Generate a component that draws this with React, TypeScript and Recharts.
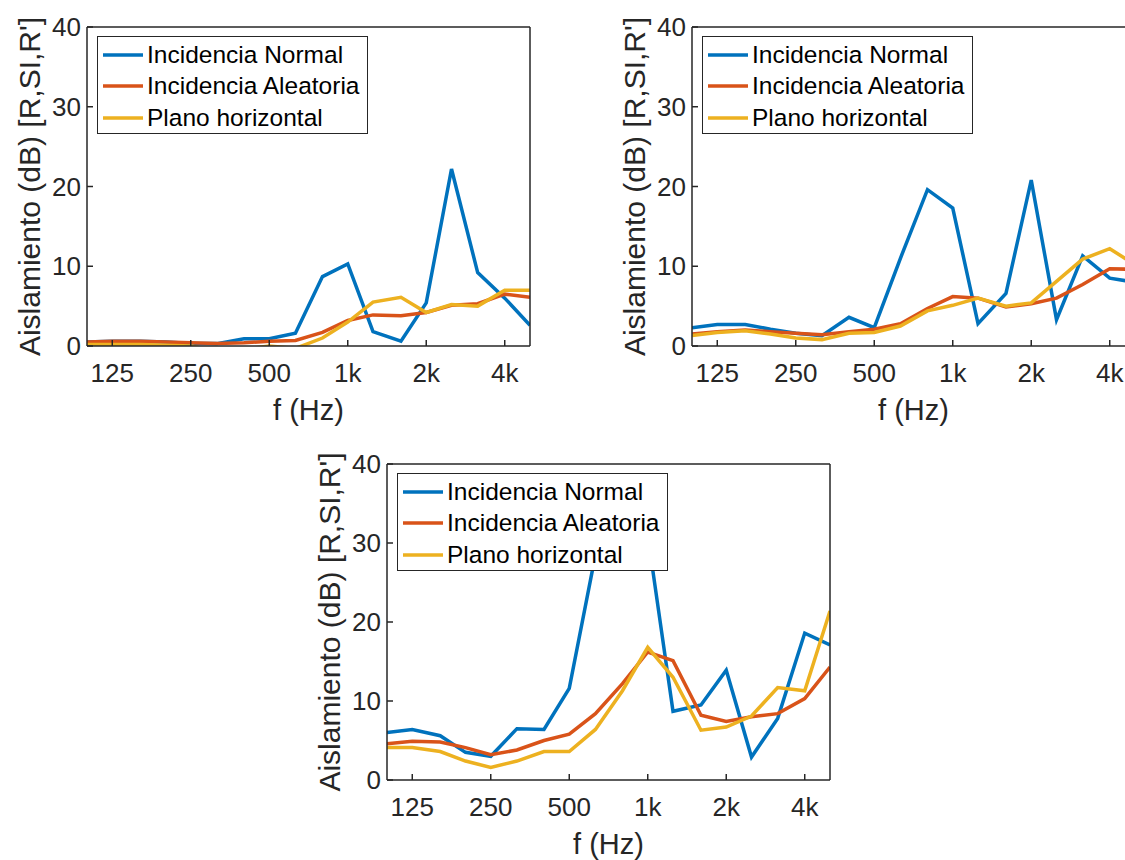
import { LineChart, Line, XAxis, YAxis, Legend } from 'recharts';

const FONT = '"Liberation Sans", Arial, Helvetica, sans-serif';
const INK = '#262626';

// third-octave band centre frequencies (Hz)
const freqs = [100, 125, 160, 200, 250, 315, 400, 500, 630, 800, 1000, 1250, 1600, 2000, 2500, 3150, 4000, 5000];
const freqTicks = [125, 250, 500, 1000, 2000, 4000];
const freqTickLabels = ['125', '250', '500', '1k', '2k', '4k'];
const dbTicks = [0, 10, 20, 30, 40];

const seriesKeys = ['normal', 'aleatoria', 'plano'];
const seriesNames = ['Incidencia Normal', 'Incidencia Aleatoria', 'Plano horizontal'];
const seriesColors = ['#0072BD', '#D95319', '#EDB120'];

// top-left panel
const normalA = [0.5, 0.6, 0.6, 0.5, 0.3, 0.3, 0.9, 0.9, 1.6, 8.7, 10.3, 1.8, 0.6, 5.4, 22.2, 9.2, 6.0, 2.6];
const aleatoriaA = [0.5, 0.6, 0.6, 0.5, 0.4, 0.3, 0.4, 0.6, 0.7, 1.7, 3.2, 3.9, 3.8, 4.2, 5.1, 5.3, 6.5, 6.1];
const planoA = [0.2, 0.2, 0.2, 0.1, 0.0, -0.6, -0.4, 0.0, -0.3, 1.0, 3.0, 5.5, 6.1, 4.2, 5.2, 5.0, 7.0, 7.0];

// top-right panel
const normalB = [2.3, 2.7, 2.7, 2.1, 1.6, 1.3, 3.6, 2.3, 11.0, 19.6, 17.3, 2.8, 6.6, 20.8, 3.3, 11.3, 8.5, 8.0];
const aleatoriaB = [1.5, 1.8, 2.0, 1.8, 1.6, 1.4, 1.8, 2.1, 2.8, 4.7, 6.2, 6.0, 4.9, 5.3, 6.0, 7.7, 9.7, 9.6];
const planoB = [1.3, 1.7, 1.9, 1.5, 1.0, 0.8, 1.6, 1.7, 2.5, 4.4, 5.1, 6.0, 5.0, 5.4, 8.1, 10.9, 12.2, 10.2];

// bottom panel
const normalC = [6.0, 6.4, 5.6, 3.5, 3.0, 6.5, 6.4, 11.6, 28.5, 36.0, 31.0, 8.7, 9.5, 13.9, 2.9, 7.8, 18.6, 17.1];
const aleatoriaC = [4.6, 4.9, 4.8, 4.1, 3.2, 3.8, 5.0, 5.8, 8.4, 12.2, 16.2, 15.1, 8.2, 7.4, 8.0, 8.4, 10.3, 14.3];
const planoC = [4.1, 4.1, 3.6, 2.4, 1.6, 2.4, 3.6, 3.6, 6.4, 11.3, 16.8, 13.0, 6.3, 6.7, 8.1, 11.7, 11.3, 21.4];

const buildRows = (normal: number[], aleatoria: number[], plano: number[]) =>
  freqs.map((f, i) => ({ f, normal: normal[i], aleatoria: aleatoria[i], plano: plano[i] }));

const fmtFreq = (v: number) => {
  const i = freqTicks.indexOf(v);
  return i >= 0 ? freqTickLabels[i] : String(v);
};

const renderLegend = () => (
  <div
    style={{
      width: 271,
      height: 98,
      boxSizing: 'border-box',
      border: `1.5px solid ${INK}`,
      background: '#fff',
      paddingTop: 2,
      fontFamily: FONT,
    }}
  >
    {seriesNames.map((name, i) => (
      <div key={name} style={{ height: 31.5, display: 'flex', alignItems: 'center' }}>
        <svg width={48} height={6} style={{ flex: 'none' }}>
          <line x1={5} x2={45} y1={3} y2={3} stroke={seriesColors[i]} strokeWidth={3.5} />
        </svg>
        <span style={{ fontSize: 24.5, color: '#000', whiteSpace: 'nowrap', marginLeft: 1 }}>{name}</span>
      </div>
    ))}
  </div>
);

interface PanelProps {
  left: number;
  top: number;
  plotHeight: number;
  rows: Array<{ f: number; normal: number; aleatoria: number; plano: number }>;
}

// plot box sits at (90, 28) inside every chart
function Panel({ left, top, plotHeight, rows }: PanelProps) {
  const W = 560;
  const H = 450;
  return (
    <div style={{ position: 'absolute', left: left - 90, top: top - 28 }}>
      <LineChart
        width={W}
        height={H}
        data={rows}
        margin={{ top: 27, left: 10, right: W - 90 - 443 - 1, bottom: H - 28 - plotHeight - 80 }}
      >
        <XAxis
          xAxisId="b"
          dataKey="f"
          type="number"
          scale="log"
          domain={[100, 5000]}
          allowDataOverflow
          ticks={freqTicks}
          tickFormatter={fmtFreq}
          height={80}
          tickSize={-6}
          tickMargin={24}
          axisLine={{ stroke: INK, strokeWidth: 1.5 }}
          tickLine={{ stroke: INK, strokeWidth: 1.5 }}
          tick={{ fill: INK, fontSize: 26, fontFamily: FONT }}
          label={{ value: 'f (Hz)', position: 'insideBottom', offset: 6, fill: INK, fontSize: 29, fontFamily: FONT }}
        />
        <XAxis
          xAxisId="t"
          orientation="top"
          dataKey="f"
          type="number"
          scale="log"
          domain={[100, 5000]}
          allowDataOverflow
          ticks={freqTicks}
          height={1}
          tickSize={-6}
          tick={false}
          axisLine={{ stroke: INK, strokeWidth: 1.5 }}
          tickLine={{ stroke: INK, strokeWidth: 1.5 }}
        />
        <YAxis
          yAxisId="l"
          type="number"
          domain={[0, 40]}
          allowDataOverflow
          ticks={dbTicks}
          width={80}
          tickSize={-6}
          tickMargin={12}
          axisLine={{ stroke: INK, strokeWidth: 1.5 }}
          tickLine={{ stroke: INK, strokeWidth: 1.5 }}
          tick={{ fill: INK, fontSize: 26, fontFamily: FONT }}
          label={{
            value: "Aislamiento (dB) [R,SI,R']",
            angle: -90,
            position: 'insideLeft',
            offset: 22,
            fill: INK,
            fontSize: 30,
            fontFamily: FONT,
            style: { textAnchor: 'middle' },
          }}
        />
        <YAxis
          yAxisId="r"
          orientation="right"
          type="number"
          domain={[0, 40]}
          allowDataOverflow
          ticks={dbTicks}
          width={1}
          tickSize={-6}
          tick={false}
          axisLine={{ stroke: INK, strokeWidth: 1.5 }}
          tickLine={{ stroke: INK, strokeWidth: 1.5 }}
        />
        {seriesKeys.map((k, i) => (
          <Line
            key={k}
            xAxisId="b"
            yAxisId="l"
            type="linear"
            dataKey={k}
            name={seriesNames[i]}
            stroke={seriesColors[i]}
            strokeWidth={3.5}
            dot={false}
            activeDot={false}
            isAnimationActive={false}
          />
        ))}
        <Legend
          layout="vertical"
          align="center"
          verticalAlign="middle"
          content={renderLegend}
          wrapperStyle={{ left: 100, top: 37, width: 271 }}
        />
      </LineChart>
    </div>
  );
}

export default function App() {
  return (
    <div
      style={{
        position: 'absolute',
        left: 0,
        top: 0,
        width: 1125,
        height: 860,
        overflow: 'hidden',
        background: '#fff',
        fontFamily: FONT,
      }}
    >
      <Panel left={87} top={27} plotHeight={319} rows={buildRows(normalA, aleatoriaA, planoA)} />
      <Panel left={692} top={27} plotHeight={319} rows={buildRows(normalB, aleatoriaB, planoB)} />
      <Panel left={387} top={464} plotHeight={316} rows={buildRows(normalC, aleatoriaC, planoC)} />
    </div>
  );
}
